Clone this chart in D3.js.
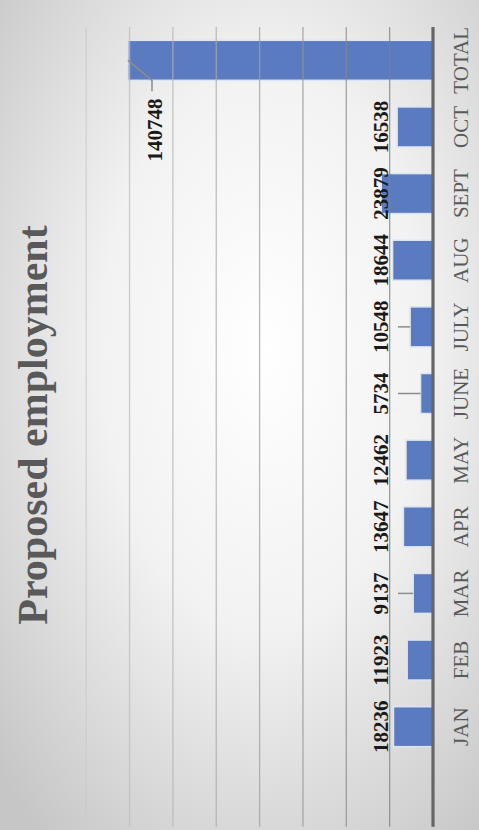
<!DOCTYPE html>
<html>
<head>
<meta charset="utf-8">
<script src="https://cdn.jsdelivr.net/npm/d3@7/dist/d3.min.js"></script>
<style>
html,body{margin:0;padding:0;background:#fff;}
svg{display:block;}
</style>
</head>
<body>
<svg id="chart" width="479" height="830"></svg>
<script>
const categories = ["JAN","FEB","MAR","APR","MAY","JUNE","JULY","AUG","SEPT","OCT","TOTAL"];
const values = [18236,11923,9137,13647,12462,5734,10548,18644,23879,16538,140748];
const valueTicks = [0,20000,40000,60000,80000,100000,120000,140000,160000];
const title = "Proposed employment";

const W = 479, H = 830;
const svg = d3.select("#chart");
const defs = svg.append("defs");
const rg = defs.append("radialGradient").attr("id","bg")
  .attr("cx","55%").attr("cy","42%").attr("r","75%");
rg.append("stop").attr("offset","0%").attr("stop-color","#ffffff");
rg.append("stop").attr("offset","45%").attr("stop-color","#f2f2f2");
rg.append("stop").attr("offset","100%").attr("stop-color","#c6c6c6");
svg.append("rect").attr("width",W).attr("height",H).attr("fill","url(#bg)");

// rotated layout: value axis horizontal (leftwards), categories vertical (bottom to top)
const x = d3.scaleLinear().domain([0,160000]).range([433,86.2]);
const y = d3.scaleBand().domain(categories).range([760,27]).paddingInner(0.4).paddingOuter(0.2);
const yTop = 27, yBot = 760 + y.step();

// bars
svg.append("g").selectAll("rect").data(values).join("rect")
  .attr("x", d => x(d))
  .attr("y", (d,i) => y(categories[i]))
  .attr("width", d => x(0) - x(d))
  .attr("height", y.bandwidth())
  .attr("fill","#5b7bc0")
  .attr("stroke","#dde4f3").attr("stroke-width",1.5);

// gridlines (on top, semi-transparent)
const gcol = d3.scaleLinear().domain([160000,20000]).range(["#c9c9c9","#7f7f7f"]);
svg.append("g").selectAll("line").data(valueTicks.filter(t => t > 0)).join("line")
  .attr("x1", d => x(d)).attr("x2", d => x(d))
  .attr("y1", yTop).attr("y2", yBot)
  .attr("stroke", d => gcol(d)).attr("stroke-opacity",0.75).attr("stroke-width",1.3);

// category axis line
svg.append("line").attr("x1",x(0)).attr("x2",x(0)).attr("y1",yTop).attr("y2",yBot)
  .attr("stroke","#666").attr("stroke-width",3.2);

// category labels
svg.append("g").selectAll("text").data(categories).join("text")
  .attr("transform", d => `translate(468,${y(d)+y.bandwidth()/2}) rotate(-90)`)
  .attr("text-anchor","middle")
  .attr("font-family","'Liberation Serif','Times New Roman',serif")
  .attr("font-size",21).attr("fill","#595959")
  .text(d => d);

// value labels
const labelBase = 388;
const lbl = svg.append("g");
values.forEach((v,i) => {
  const c = categories[i];
  const cy = y(c) + y.bandwidth()/2;
  if (c === "TOTAL") {
    const lx = 162, ly = 130;
    lbl.append("polyline")
      .attr("points", `${x(v)},${cy} ${lx-10},${y(c)+y.bandwidth()} ${lx-10},${y(c)+y.bandwidth()+11}`)
      .attr("fill","none").attr("stroke","#8c8c8c").attr("stroke-width",1.5);
    lbl.append("text").attr("transform",`translate(${lx},${ly}) rotate(-90)`)
      .attr("text-anchor","middle")
      .attr("font-family","'Liberation Serif','Times New Roman',serif")
      .attr("font-weight","bold").attr("font-size",21).attr("fill","#1a1a1a")
      .text(v);
  } else {
    if (x(v) > labelBase + 21) {
      lbl.append("line").attr("x1",labelBase+10).attr("x2",x(v))
        .attr("y1",cy).attr("y2",cy)
        .attr("stroke","#8c8c8c").attr("stroke-width",1.5);
    }
    lbl.append("text").attr("transform",`translate(${labelBase},${cy}) rotate(-90)`)
      .attr("text-anchor","middle")
      .attr("font-family","'Liberation Serif','Times New Roman',serif")
      .attr("font-weight","bold").attr("font-size",21).attr("fill","#1a1a1a")
      .text(v);
  }
});

// title
svg.append("text").attr("transform","translate(47,425) rotate(-90)")
  .attr("text-anchor","middle")
  .attr("font-family","'Liberation Serif','Times New Roman',serif")
  .attr("font-weight","bold").attr("font-size",42).attr("fill","#595959")
  .text(title);
</script>
</body>
</html>
